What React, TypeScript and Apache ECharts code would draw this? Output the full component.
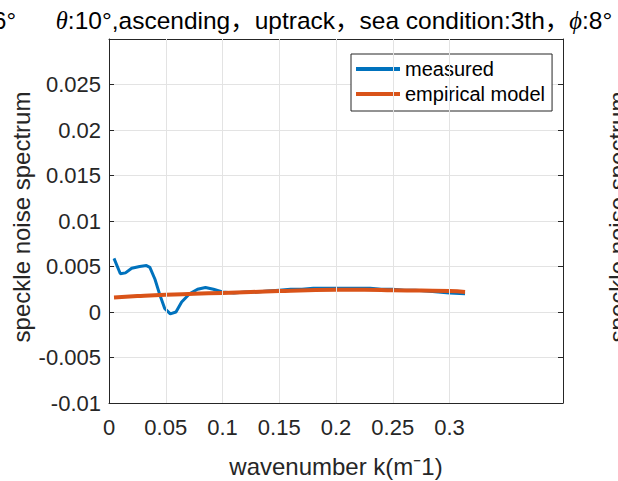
import { useEffect, useRef } from "react";
import * as echarts from "echarts";

const xTicks = [0, 0.05, 0.1, 0.15, 0.2, 0.25, 0.3];
const xGrid = [0.05, 0.1, 0.15, 0.2, 0.25, 0.3];

const kMeasured = [
  0.0044, 0.01, 0.0145, 0.02, 0.027, 0.033, 0.036, 0.0405, 0.045, 0.049,
  0.054, 0.059, 0.064, 0.071, 0.078, 0.085, 0.092, 0.1, 0.11, 0.12,
  0.13, 0.14, 0.15, 0.16, 0.17, 0.18, 0.19, 0.2, 0.21, 0.22,
  0.23, 0.24, 0.25, 0.26, 0.27, 0.28, 0.29, 0.3, 0.3137,
];
const measured = [
  0.0059, 0.0042, 0.0043, 0.0048, 0.005, 0.0051, 0.0049, 0.0036, 0.0018, 0.0004,
  -0.0002, 0.0, 0.0011, 0.002, 0.0025, 0.0027, 0.0025, 0.0022, 0.0021, 0.0022,
  0.0022, 0.0023, 0.0024, 0.0025, 0.0025, 0.0026, 0.0026, 0.0026, 0.0026, 0.0026,
  0.0026, 0.0025, 0.0025, 0.0024, 0.0024, 0.0023, 0.0022, 0.0021, 0.002,
];

const kModel = [0.0044, 0.025, 0.05, 0.075, 0.1, 0.125, 0.15, 0.175, 0.2, 0.225, 0.25, 0.275, 0.3, 0.3137];
const model = [0.0016, 0.00175, 0.0019, 0.002, 0.0021, 0.0022, 0.0023, 0.0024, 0.00245, 0.00245, 0.0024, 0.00235, 0.0023, 0.0022];

const seriesNames = ["measured", "empirical model"];
const titleText = "{i|θ}:10°,ascending，uptrack，sea condition:3th，{i|ϕ}:8°";
const yLabel = "speckle noise spectrum";
const xLabel = "wavenumber k(m⁻1)";

const FONT = "'Liberation Sans', 'Noto Sans CJK SC', sans-serif";
const AX = "#262626";
const GRID = "#e3e3e3";

export default function App() {
  const ref = useRef<HTMLDivElement>(null);
  useEffect(() => {
    document.body.style.margin = "0";
    const chart = echarts.init(ref.current!, null, { renderer: "svg" });
    const measuredData = kMeasured.map((k, i) => [k, measured[i]]);
    const modelData = kModel.map((k, i) => [k, model[i]]);
    const axisLine = { show: true, onZero: false, lineStyle: { color: AX, width: 1 } };
    chart.setOption({
      animation: false,
      grid: { left: 109, top: 39, right: 55, bottom: 78 },
      xAxis: [
        {
          type: "value", min: 0, max: 0.4, interval: 0.05, position: "bottom",
          axisLine,
          axisTick: { show: true, inside: true, length: 5, customValues: xTicks, lineStyle: { color: AX } },
          axisLabel: {
            customValues: xTicks, fontSize: 22, fontFamily: FONT, color: AX, margin: 13,
            formatter: (v: number) => (v > 0.3 + 1e-9 ? "" : String(+v.toFixed(3))),
          },
          splitLine: { show: false },
        },
        {
          type: "value", min: 0, max: 0.4, interval: 0.05, position: "top",
          axisLine,
          axisTick: { show: true, inside: true, length: 5, customValues: xTicks, lineStyle: { color: AX } },
          axisLabel: { show: false },
          splitLine: { show: false },
        },
      ],
      yAxis: [
        {
          type: "value", min: -0.01, max: 0.03, interval: 0.005, position: "left",
          axisLine,
          axisTick: { show: true, inside: true, length: 5, lineStyle: { color: AX } },
          axisLabel: {
            fontSize: 22, fontFamily: FONT, color: AX, margin: 8,
            formatter: (v: number) => (Math.abs(v - 0.03) < 1e-9 ? "" : String(+v.toFixed(3))),
          },
          splitLine: { show: true, lineStyle: { color: GRID, width: 1 } },
        },
        {
          type: "value", min: -0.01, max: 0.03, interval: 0.005, position: "right",
          axisLine,
          axisTick: { show: true, inside: true, length: 5, lineStyle: { color: AX } },
          axisLabel: { show: false },
          splitLine: { show: false },
        },
      ],
      legend: {
        orient: "vertical", left: 351, top: 54,
        data: seriesNames,
        icon: "rect", itemWidth: 44, itemHeight: 4, itemGap: 5,
        padding: [5, 7, 7, 5],
        borderColor: AX, borderWidth: 1, borderRadius: 0, backgroundColor: "#fff",
        textStyle: { fontSize: 20, fontFamily: FONT, color: "#000", lineHeight: 20 },
      },
      series: [
        {
          type: "line", data: modelData, symbol: "none", silent: true, z: 1,
          lineStyle: { opacity: 0 },
          markLine: {
            silent: true, symbol: ["none", "none"], label: { show: false },
            lineStyle: { color: GRID, width: 1, type: "solid" },
            emphasis: { disabled: true },
            data: xGrid.map((v) => ({ xAxis: v })),
          },
        },
        {
          name: seriesNames[0], type: "line", data: measuredData, symbol: "none", z: 3,
          color: "#0072BD", lineStyle: { color: "#0072BD", width: 3 },
        },
        {
          name: seriesNames[1], type: "line", data: modelData, symbol: "none", z: 4, smooth: true,
          color: "#D95319", lineStyle: { color: "#D95319", width: 4 },
        },
      ],
      graphic: [
        {
          type: "text", x: 334, y: 20,
          style: {
            text: titleText, fontSize: 24.5, fontFamily: FONT, fill: "#000",
            align: "center", verticalAlign: "middle",
            rich: { i: { fontFamily: "'Liberation Serif', serif", fontStyle: "italic", fontSize: 24.5, fill: "#000" } },
          },
        },
        {
          type: "text", x: 16, y: 20,
          style: { text: "6°", fontSize: 24, fontFamily: FONT, fill: "#000", align: "right", verticalAlign: "middle" },
        },
        {
          type: "text", x: 21, y: 217, rotation: Math.PI / 2,
          style: { text: yLabel, fontSize: 24, fontFamily: FONT, fill: AX, align: "center", verticalAlign: "middle" },
        },
        {
          type: "text", x: 617, y: 217, rotation: Math.PI / 2,
          style: { text: yLabel, fontSize: 24, fontFamily: FONT, fill: AX, align: "center", verticalAlign: "middle" },
        },
        {
          type: "text", x: 336, y: 466,
          style: { text: xLabel, fontSize: 24, fontFamily: FONT, fill: AX, align: "center", verticalAlign: "middle" },
        },
      ],
    });
    return () => chart.dispose();
  }, []);
  return <div ref={ref} style={{ width: 618, height: 481 }} />;
}
